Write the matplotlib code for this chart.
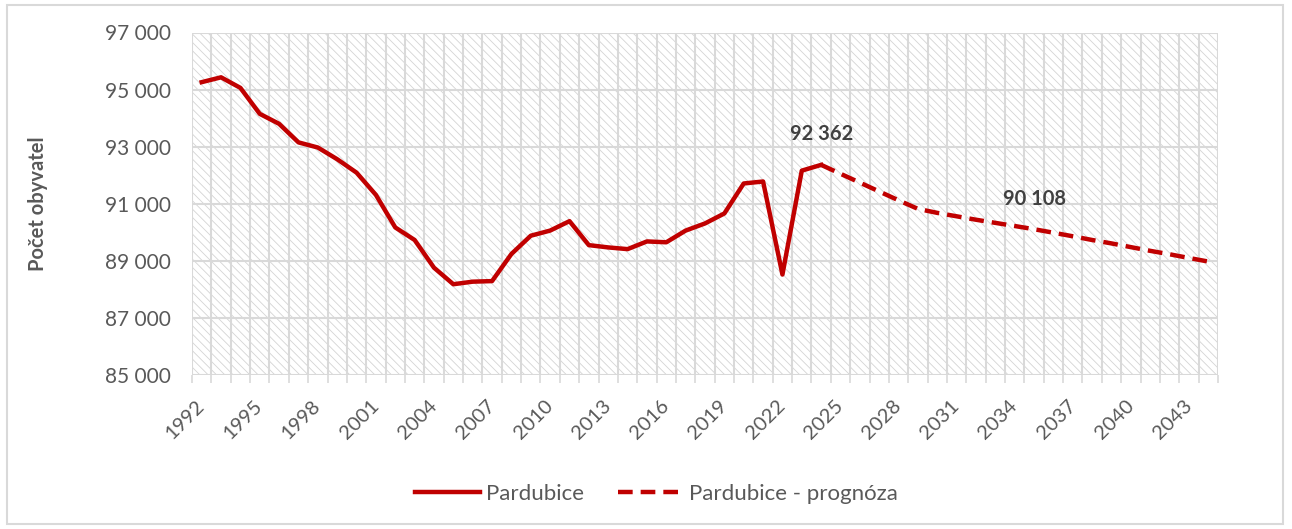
import matplotlib
matplotlib.use("Agg")
import matplotlib.pyplot as plt
from matplotlib.patches import Rectangle
from matplotlib.ticker import FuncFormatter
import numpy as np

plt.rcParams['font.family'] = ['Lato', 'DejaVu Sans']
plt.rcParams['hatch.linewidth'] = 0.6

# observed population, Pardubice
years_hist = list(range(1992, 2025))
pop_hist = [95260, 95430, 95060, 94150, 93800, 93150, 92970, 92560, 92090, 91310,
            90170, 89730, 88760, 88180, 88270, 88290, 89240, 89880, 90060, 90390,
            89550, 89470, 89410, 89680, 89650, 90060, 90310, 90660, 91710, 91780,
            88520, 92160, 92362]

# forecast
years_fc = list(range(2024, 2045))
pop_fc = [92362, 92050, 91740, 91430, 91120, 90820, 90680, 90560, 90440, 90330,
          90220, 90108, 89985, 89860, 89730, 89610, 89480, 89350, 89230, 89100,
          88975]

labels = [(2024, 92362, "92 362"), (2035, 90108, "90 108")]

RED = "#C00000"
GRID = "#d9d9d9"
TXT = "#595959"

fig = plt.figure(figsize=(12.92, 5.29), dpi=100)
ax = fig.add_axes([192/1292, 1 - 375/529, (1218-192)/1292, (375-32.5)/529])

# hatched plot area
bg = Rectangle((0, 0), 1, 1, transform=ax.transAxes, facecolor="white",
               edgecolor="#d4d4d4", hatch="\\\\\\\\", linewidth=0, zorder=0)
ax.add_patch(bg)
ax.patch.set_visible(False)

ax.plot(years_hist, pop_hist, color=RED, lw=3.2, solid_joinstyle="round",
        label="Pardubice", zorder=3)
ax.plot(years_fc, pop_fc, color=RED, lw=3.2, dashes=(3.3, 1.8),
        dash_capstyle="butt", label="Pardubice - prognóza", zorder=3)

for yr, val, txt in labels:
    ax.annotate(txt, (yr, val), xytext=(0, 22), textcoords="offset points",
                ha="center", va="center", fontsize=14.5, fontweight="bold",
                color="#404040", zorder=4)

ax.set_xlim(1991.5, 2044.5)
ax.set_ylim(85000, 97000)
ax.set_yticks(np.arange(85000, 97001, 2000))
ax.yaxis.set_major_formatter(FuncFormatter(lambda v, p: f"{int(v):,}".replace(",", " ")))

ax.set_xticks(range(1992, 2045, 3))
ax.set_xticks(np.arange(1991.5, 2045, 1), minor=True)
ax.tick_params(axis="x", which="major", length=0, labelsize=14.5, labelcolor=TXT, pad=20)
ax.tick_params(axis="x", which="minor", length=6, color=GRID, width=1.2)
ax.tick_params(axis="y", length=0, labelsize=15, labelcolor=TXT, pad=15)

for lab in ax.get_xticklabels():
    lab.set_rotation(45)
    lab.set_ha("right")
    lab.set_va("center")
    lab.set_rotation_mode("anchor")

ax.grid(True, axis="y", which="major", color=GRID, lw=1.5, zorder=1)
ax.grid(True, axis="x", which="minor", color=GRID, lw=1.5, zorder=1)
ax.grid(False, axis="x", which="major")
ax.set_axisbelow(True)
for s in ax.spines.values():
    s.set_visible(False)

ax.set_ylabel("Počet obyvatel", fontsize=14.5, fontweight="bold", color=TXT)
ax.yaxis.set_label_coords(-0.1404, 0.5)

fig.legend(loc="center", bbox_to_anchor=(0.508, 1 - 494/529), ncol=2, frameon=False,
           fontsize=16, labelcolor=TXT, handlelength=2.9, handletextpad=0.3,
           columnspacing=1.5)

fig.patches.append(Rectangle((7/1292, 1 - 524/529), 1276/1292, 519/529,
                             transform=fig.transFigure, fill=False,
                             edgecolor=GRID, lw=1.5))

fig.savefig("out.png", dpi=100)
